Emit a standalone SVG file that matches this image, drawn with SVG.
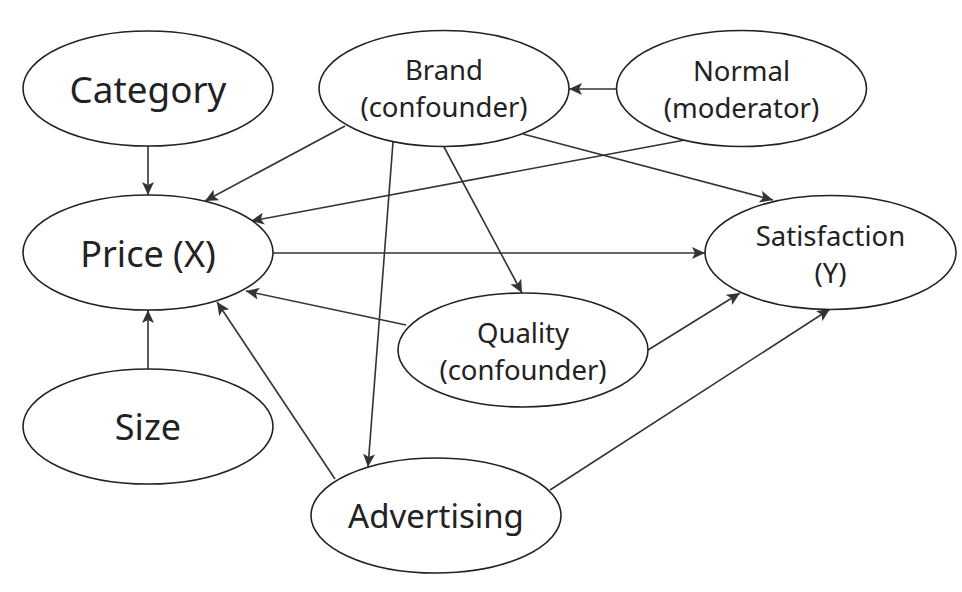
<svg xmlns="http://www.w3.org/2000/svg" width="962" height="592" viewBox="0 0 962 592">
<defs>
<marker id="ah" markerUnits="userSpaceOnUse" markerWidth="14" markerHeight="12" refX="13" refY="6" orient="auto">
<path d="M0,0 L13,6 L0,12 L3,6 Z" fill="#333"/>
</marker>
<style>
.n ellipse{fill:#fff;stroke:#222;stroke-width:1.6}
.n text{font-family:"Noto Sans","Open Sans",sans-serif;fill:#222;text-anchor:middle}
.big{font-size:36px}
.sm{font-size:27.5px}
#edges line{stroke:#333;stroke-width:1.6;marker-end:url(#ah)}
</style>
</defs>
<rect width="962" height="592" fill="#fff"/>
<g id="edges">
<line x1="148" y1="146" x2="148" y2="195"/>
<line x1="148" y1="369" x2="148" y2="310"/>
<line x1="345" y1="126" x2="205" y2="201"/>
<line x1="685" y1="140" x2="251" y2="221"/>
<line x1="273" y1="253" x2="705" y2="253"/>
<line x1="406" y1="325" x2="246" y2="291"/>
<line x1="335" y1="479" x2="217" y2="302"/>
<line x1="393" y1="142" x2="368" y2="467"/>
<line x1="444" y1="147" x2="522" y2="293"/>
<line x1="523" y1="134" x2="773" y2="200"/>
<line x1="616" y1="89" x2="569" y2="89"/>
<line x1="648" y1="350" x2="740" y2="293"/>
<line x1="550" y1="490" x2="830" y2="309"/>
</g>
<g id="category" class="n"><ellipse cx="148" cy="88.5" rx="125" ry="57.5"/><text class="big" x="148" y="103" style="font-size:36.8px">Category</text></g>
<g id="price" class="n"><ellipse cx="148" cy="252.5" rx="125" ry="57.5"/><text class="big" x="148" y="267">Price (X)</text></g>
<g id="size" class="n"><ellipse cx="148" cy="426.5" rx="125" ry="57.5"/><text class="big" x="148" y="440">Size</text></g>
<g id="brand" class="n"><ellipse cx="444" cy="88.5" rx="125" ry="58"/><text class="sm" x="444" y="80">Brand</text><text class="sm" x="444" y="117">(confounder)</text></g>
<g id="normal" class="n"><ellipse cx="741.5" cy="88.5" rx="125" ry="58"/><text class="sm" x="741.5" y="81">Normal</text><text class="sm" x="741.5" y="118">(moderator)</text></g>
<g id="satisfaction" class="n"><ellipse cx="830.5" cy="252.5" rx="125.5" ry="57"/><text class="sm" x="830.5" y="246">Satisfaction</text><text class="sm" x="830.5" y="283">(Y)</text></g>
<g id="quality" class="n"><ellipse cx="523" cy="350" rx="125" ry="57"/><text class="sm" x="523" y="343">Quality</text><text class="sm" x="523" y="380">(confounder)</text></g>
<g id="advertising" class="n"><ellipse cx="436" cy="515.5" rx="125" ry="57.5"/><text class="big" x="436" y="528" style="font-size:33px">Advertising</text></g>
</svg>
